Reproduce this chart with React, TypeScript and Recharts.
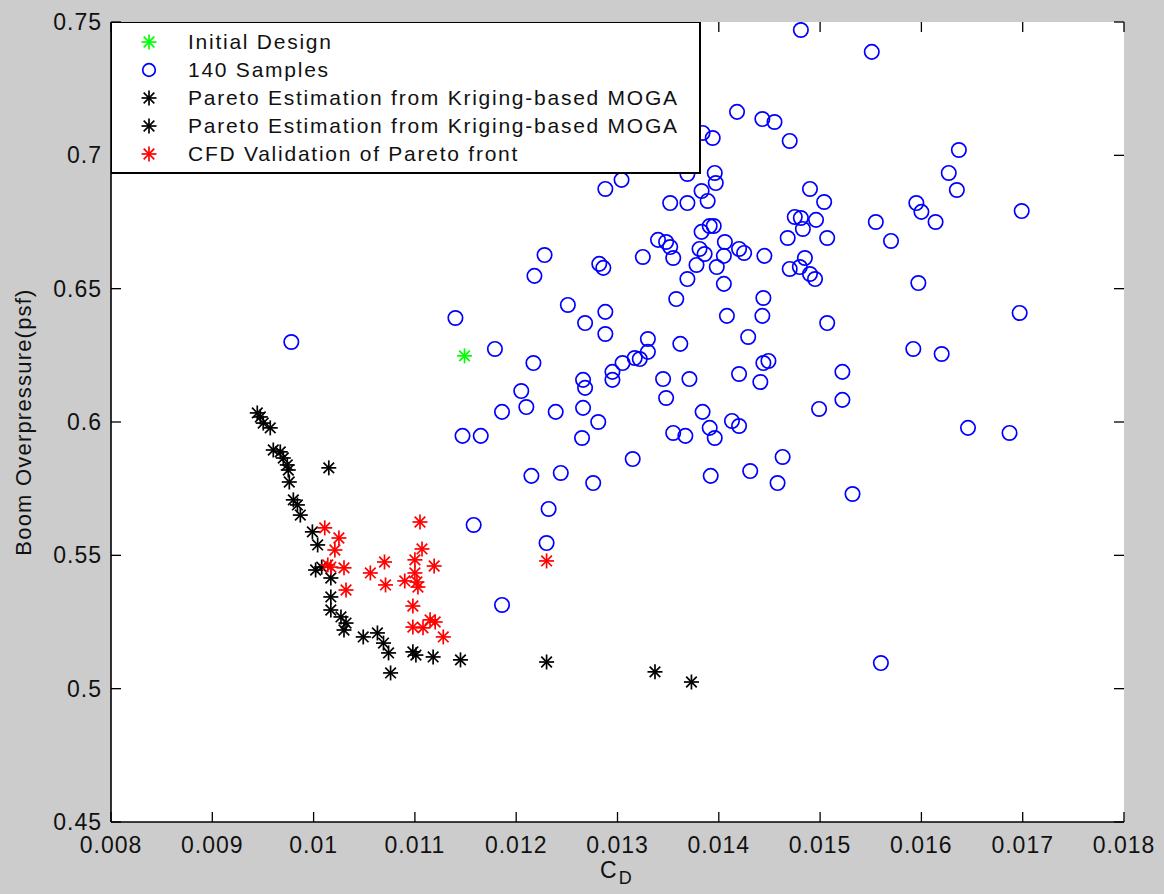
import React from 'react';
import { ScatterChart, Scatter, XAxis, YAxis, CartesianGrid } from 'recharts';

const xTicks = [0.008, 0.009, 0.01, 0.011, 0.012, 0.013, 0.014, 0.015, 0.016, 0.017, 0.018];
const yTicks = [0.45, 0.5, 0.55, 0.6, 0.65, 0.7, 0.75];

const legendLabels = [
  'Initial Design',
  '140 Samples',
  'Pareto Estimation from Kriging-based MOGA',
  'Pareto Estimation from Kriging-based MOGA',
  'CFD Validation of Pareto front',
];

const initialDesign: number[][] = [[0.01149, 0.6248]];

const samples: number[][] = [
  [0.01481, 0.747], [0.01551, 0.7388], [0.01418, 0.7163], [0.01443, 0.7136], [0.01455, 0.7125],
  [0.0147, 0.7054], [0.01384, 0.7084], [0.01394, 0.7065], [0.01637, 0.702], [0.01627, 0.6934],
  [0.01635, 0.687], [0.01595, 0.6821], [0.016, 0.6788], [0.01555, 0.675], [0.01614, 0.675],
  [0.0157, 0.6679], [0.01699, 0.6791], [0.01597, 0.6521], [0.01697, 0.6409], [0.01396, 0.6934],
  [0.01397, 0.6896], [0.01383, 0.6866], [0.01389, 0.6829], [0.01369, 0.6821], [0.01352, 0.6821],
  [0.01304, 0.6908], [0.01288, 0.6874], [0.01369, 0.693], [0.0149, 0.6874], [0.01504, 0.6825],
  [0.01475, 0.6769], [0.01481, 0.6765], [0.01496, 0.6758], [0.01483, 0.6724], [0.01468, 0.669],
  [0.01507, 0.669], [0.01391, 0.6735], [0.01395, 0.6735], [0.01383, 0.6713], [0.0134, 0.6683],
  [0.01348, 0.6675], [0.01352, 0.6656], [0.01355, 0.6615], [0.01325, 0.6619], [0.01282, 0.6593],
  [0.01286, 0.6578], [0.01381, 0.6649], [0.01386, 0.663], [0.01406, 0.6675], [0.01405, 0.6623],
  [0.0142, 0.6649], [0.01425, 0.6634], [0.01445, 0.6623], [0.01398, 0.6581], [0.01378, 0.6589],
  [0.01369, 0.6536], [0.01405, 0.6518], [0.01485, 0.6615], [0.0147, 0.6574], [0.0148, 0.6581],
  [0.0149, 0.6555], [0.01495, 0.6536], [0.01444, 0.6465], [0.01358, 0.6461], [0.01228, 0.6626],
  [0.01218, 0.6548], [0.01251, 0.6439], [0.01268, 0.6371], [0.01288, 0.6413], [0.01288, 0.633],
  [0.0133, 0.6311], [0.0133, 0.6263], [0.01305, 0.6221], [0.01317, 0.624], [0.01322, 0.6236],
  [0.01295, 0.6188], [0.01295, 0.6158], [0.01362, 0.6293], [0.01345, 0.6161], [0.01371, 0.6161],
  [0.01348, 0.609], [0.01408, 0.6398], [0.01443, 0.6398], [0.01429, 0.6319], [0.01507, 0.6371],
  [0.01449, 0.6229], [0.01444, 0.6221], [0.0142, 0.618], [0.01441, 0.615], [0.01522, 0.6188],
  [0.01522, 0.6083], [0.01499, 0.6049], [0.01384, 0.6038], [0.01391, 0.5978], [0.01396, 0.594],
  [0.01413, 0.6004], [0.0142, 0.5985], [0.01355, 0.5959], [0.01367, 0.5948], [0.01281, 0.6],
  [0.01266, 0.6053], [0.01265, 0.594], [0.01266, 0.6158], [0.01268, 0.6128], [0.01315, 0.5861],
  [0.01276, 0.5771], [0.01392, 0.5798], [0.01431, 0.5816], [0.01463, 0.5869], [0.01458, 0.5771],
  [0.01532, 0.573], [0.0114, 0.639], [0.01179, 0.6274], [0.01217, 0.6221], [0.01205, 0.6116],
  [0.0121, 0.6056], [0.01186, 0.6038], [0.01239, 0.6038], [0.01147, 0.5948], [0.01165, 0.5948],
  [0.01215, 0.5798], [0.01244, 0.5809], [0.01232, 0.5674], [0.01158, 0.5614], [0.0123, 0.5546],
  [0.01186, 0.5314], [0.00978, 0.63], [0.01592, 0.6274], [0.0162, 0.6255], [0.01646, 0.5978],
  [0.01687, 0.5959], [0.0156, 0.5096],
];

const paretoA: number[][] = [
  [0.009444, 0.6034], [0.009474, 0.6019], [0.009503, 0.5996], [0.009572, 0.5978], [0.009602, 0.5895],
  [0.009671, 0.5888], [0.009701, 0.5865], [0.00974, 0.5839], [0.00975, 0.582], [0.00976, 0.5775],
  [0.0098, 0.5708], [0.00984, 0.5689], [0.009869, 0.5651], [0.009988, 0.5588], [0.01004, 0.5539],
  [0.01002, 0.5445], [0.01008, 0.5456], [0.01015, 0.5828], [0.01017, 0.5415], [0.01017, 0.5344],
  [0.01017, 0.5295], [0.01027, 0.5269], [0.01032, 0.5246], [0.0103, 0.522], [0.01049, 0.5194],
  [0.01063, 0.5209], [0.01069, 0.5171], [0.01074, 0.5134], [0.01076, 0.5059], [0.01098, 0.5138],
  [0.01101, 0.5126], [0.01118, 0.5119],
];

const paretoB: number[][] = [
  [0.01145, 0.5108], [0.0123, 0.51], [0.01337, 0.5063], [0.01373, 0.5025],
];

const cfdValidation: number[][] = [
  [0.01011, 0.5603], [0.01025, 0.5565], [0.01021, 0.552], [0.01014, 0.5464], [0.01017, 0.5456],
  [0.0103, 0.5453], [0.01032, 0.537], [0.01056, 0.5434], [0.0107, 0.5475], [0.01071, 0.5389],
  [0.01105, 0.5625], [0.01107, 0.5524], [0.011, 0.5483], [0.01119, 0.546], [0.0109, 0.5404],
  [0.011, 0.5434], [0.01102, 0.54], [0.01103, 0.5381], [0.01098, 0.531], [0.01098, 0.5231],
  [0.01108, 0.5228], [0.01115, 0.5258], [0.0112, 0.525], [0.01128, 0.5194], [0.0123, 0.5479],
];

const toPts = (arr: number[][]) => arr.map(([x, y]) => ({ x, y }));

const FONT = '"Liberation Sans", Arial, Helvetica, sans-serif';
const TICK_LEN = 10;
const TICK_FONT = 23;
const TEXT_COLOR = '#111';

const PLOT = { left: 111, top: 22, right: 1124, bottom: 822 };

const Star = (color: string) => (props: any) => {
  const { cx, cy } = props;
  if (cx == null || cy == null) return <g />;
  const r = 7.5;
  const d = 5.3;
  return (
    <g stroke={color} strokeWidth={1.7}>
      <line x1={cx - r} y1={cy} x2={cx + r} y2={cy} />
      <line x1={cx} y1={cy - r} x2={cx} y2={cy + r} />
      <line x1={cx - d} y1={cy - d} x2={cx + d} y2={cy + d} />
      <line x1={cx - d} y1={cy + d} x2={cx + d} y2={cy - d} />
    </g>
  );
};

const Ring = (props: any) => {
  const { cx, cy } = props;
  if (cx == null || cy == null) return <g />;
  return <circle cx={cx} cy={cy} r={7.2} fill="none" stroke="#0000ff" strokeWidth={1.7} />;
};

const LegendStar = ({ color }: { color: string }) => (
  <svg width={16} height={16} style={{ display: 'block' }}>
    <g stroke={color} strokeWidth={1.7}>
      <line x1={0.5} y1={8} x2={15.5} y2={8} />
      <line x1={8} y1={0.5} x2={8} y2={15.5} />
      <line x1={2.7} y1={2.7} x2={13.3} y2={13.3} />
      <line x1={2.7} y1={13.3} x2={13.3} y2={2.7} />
    </g>
  </svg>
);

const LegendRing = () => (
  <svg width={16} height={16} style={{ display: 'block' }}>
    <circle cx={8} cy={8} r={6.3} fill="none" stroke="#0000ff" strokeWidth={1.7} />
  </svg>
);

const BOTTOM_MARGIN = 15;
const LEFT_MARGIN = 9;

const BottomTick = (props: any) => {
  const { x, y, payload } = props;
  return (
    <text x={Number(x)} y={Number(y)} dy="0.71em" textAnchor="middle" fontSize={TICK_FONT} fill={TEXT_COLOR}
      fontFamily={FONT} letterSpacing={1}>
      {String(payload.value)}
    </text>
  );
};

const LeftTick = (props: any) => {
  const { x, y, payload } = props;
  return (
    <text x={Number(x)} y={Number(y)} dy="0.355em" textAnchor="end" fontSize={TICK_FONT} fill={TEXT_COLOR}
      fontFamily={FONT} letterSpacing={1}>
      {String(payload.value)}
    </text>
  );
};

// inward tick marks drawn at the axis tick positions supplied by the grid
const VerticalTickMarks = (props: any) => {
  const x = Number(props.x1);
  const top = Math.min(Number(props.y1), Number(props.y2));
  const bottom = Math.max(Number(props.y1), Number(props.y2));
  return (
    <g stroke="#000" strokeWidth={1.3}>
      <line x1={x} y1={top} x2={x} y2={top + TICK_LEN} />
      <line x1={x} y1={bottom - TICK_LEN} x2={x} y2={bottom} />
    </g>
  );
};

const HorizontalTickMarks = (props: any) => {
  const y = Number(props.y1);
  const left = Math.min(Number(props.x1), Number(props.x2));
  const right = Math.max(Number(props.x1), Number(props.x2));
  return (
    <g stroke="#000" strokeWidth={1.3}>
      <line x1={left} y1={y} x2={left + TICK_LEN} y2={y} />
      <line x1={right - TICK_LEN} y1={y} x2={right} y2={y} />
    </g>
  );
};

export default function App() {
  const legendMarkers = [
    <LegendStar color="#00ff00" />,
    <LegendRing />,
    <LegendStar color="#000" />,
    <LegendStar color="#000" />,
    <LegendStar color="#ff0000" />,
  ];
  const axisLine = { stroke: '#000', strokeWidth: 1.6 };
  return (
    <div style={{ position: 'absolute', left: 0, top: 0, width: 1164, height: 894, background: '#cccccc', fontFamily: FONT }}>
      <div
        style={{
          position: 'absolute', left: PLOT.left, top: PLOT.top,
          width: PLOT.right - PLOT.left, height: PLOT.bottom - PLOT.top, background: '#ffffff',
        }}
      />
      <div style={{ position: 'absolute', left: 0, top: 0 }}>
        <ScatterChart width={1164} height={894} margin={{ top: 22, right: 40, bottom: 42, left: 51 }}>
          <CartesianGrid
            xAxisId="b"
            yAxisId="l"
            stroke="#000"
            fill="none"
            vertical={VerticalTickMarks}
            horizontal={HorizontalTickMarks}
          />
          <XAxis
            xAxisId="b"
            dataKey="x"
            type="number"
            domain={[0.008, 0.018]}
            ticks={xTicks}
            allowDataOverflow
            height={30}
            axisLine={axisLine}
            tickLine={false}
            tickSize={0}
            tickMargin={BOTTOM_MARGIN}
            tick={BottomTick}
            interval={0}
          />
          <XAxis
            xAxisId="t"
            orientation="top"
            type="number"
            domain={[0.008, 0.018]}
            ticks={xTicks}
            allowDataOverflow
            height={0}
            axisLine={axisLine}
            tickLine={false}
            tick={false}
          />
          <YAxis
            yAxisId="l"
            dataKey="y"
            type="number"
            domain={[0.45, 0.75]}
            ticks={yTicks}
            allowDataOverflow
            width={60}
            axisLine={axisLine}
            tickLine={false}
            tickSize={0}
            tickMargin={LEFT_MARGIN}
            tick={LeftTick}
            interval={0}
          />
          <YAxis
            yAxisId="r"
            orientation="right"
            type="number"
            domain={[0.45, 0.75]}
            ticks={yTicks}
            allowDataOverflow
            width={0}
            axisLine={axisLine}
            tickLine={false}
            tick={false}
          />
          <Scatter xAxisId="b" yAxisId="l" name="140 Samples" data={toPts(samples)} shape={Ring} isAnimationActive={false} />
          <Scatter xAxisId="b" yAxisId="l" name="Pareto A" data={toPts(paretoA)} shape={Star('#000000')} isAnimationActive={false} />
          <Scatter xAxisId="b" yAxisId="l" name="Pareto B" data={toPts(paretoB)} shape={Star('#000000')} isAnimationActive={false} />
          <Scatter xAxisId="b" yAxisId="l" name="CFD" data={toPts(cfdValidation)} shape={Star('#ff0000')} isAnimationActive={false} />
          <Scatter xAxisId="b" yAxisId="l" name="Initial Design" data={toPts(initialDesign)} shape={Star('#00ff00')} isAnimationActive={false} />
        </ScatterChart>
      </div>

      <div
        style={{
          position: 'absolute', left: 111, top: 22, width: 590, height: 152,
          background: '#fff', border: '1px solid #000', borderRight: '2px solid #000', borderBottom: '2px solid #000',
          boxSizing: 'border-box', paddingTop: 5,
        }}
      >
        {legendLabels.map((label, i) => (
          <div key={i} style={{ display: 'flex', alignItems: 'center', height: 28 }}>
            <div style={{ width: 30, marginLeft: 29 }}>{legendMarkers[i]}</div>
            <div style={{ marginLeft: 17, fontSize: 21, letterSpacing: 1.75, whiteSpace: 'nowrap', color: TEXT_COLOR, lineHeight: '28px' }}>{label}</div>
          </div>
        ))}
      </div>

      <div
        style={{
          position: 'absolute', left: 24, top: 422, transform: 'translate(-50%, -50%) rotate(-90deg)',
          fontSize: 22, letterSpacing: 1.2, whiteSpace: 'nowrap', color: TEXT_COLOR, lineHeight: '26px',
        }}
      >
        Boom Overpressure(psf)
      </div>
      <div style={{ position: 'absolute', left: 600, top: 856, fontSize: 23, color: TEXT_COLOR, whiteSpace: 'nowrap', lineHeight: '28px' }}>
        C<sub style={{ fontSize: 18, verticalAlign: '-6px', marginLeft: 2 }}>D</sub>
      </div>
    </div>
  );
}
